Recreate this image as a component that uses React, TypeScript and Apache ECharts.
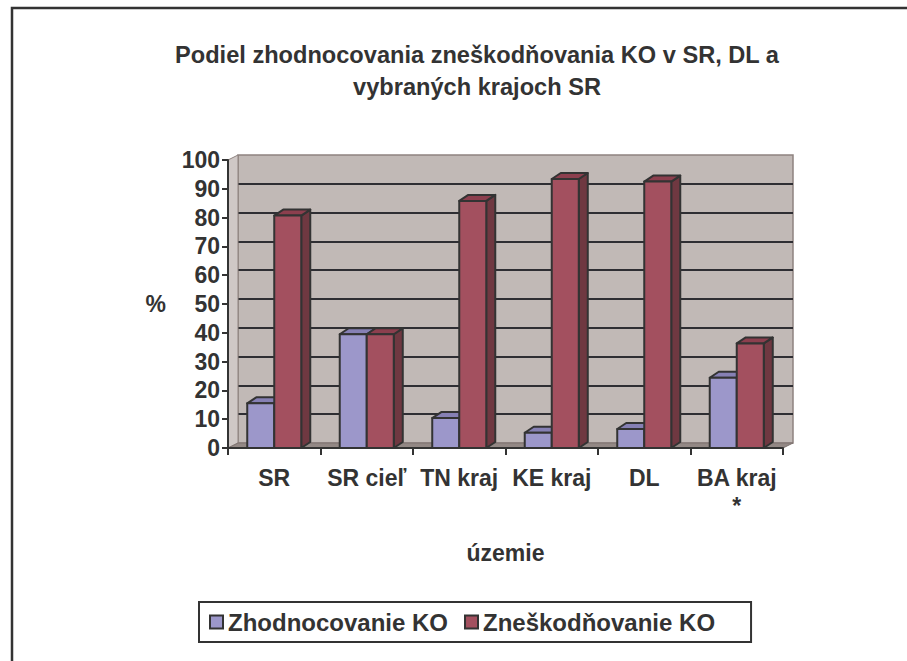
import React, { useEffect, useRef } from 'react';
import * as echarts from 'echarts';

const categories = ['SR', 'SR cieľ', 'TN kraj', 'KE kraj', 'DL', 'BA kraj *'];
const zhodnocovanie = [15.5, 39.5, 10.4, 5.3, 6.6, 24.4];
const zneskodnovanie = [80.7, 39.5, 85.8, 93.4, 92.5, 36.3];
const seriesNames = ['Zhodnocovanie KO', 'Zneškodňovanie KO'];
const yMin = 0;
const yMax = 100;
const yInterval = 10;
const titleText = 'Podiel zhodnocovania zneškodňovania KO v SR, DL a\nvybraných krajoch SR';
const yName = '%';
const xName = 'územie';

const FONT = '"Liberation Sans", Arial, sans-serif';
const TEXT = '#333333';
const STROKE = '#333333';

const blue = { front: '#9C97CA', top: '#8680B4', side: '#6E6898' };
const red = { front: '#A3505F', top: '#8C3F4E', side: '#6F3841' };

function barRender(side: number, colors: any) {
  return (params: any, api: any) => {
    const idx = api.value(0);
    const val = api.value(1);
    const top = api.coord([idx, val]);
    const base = api.coord([idx, 0]);
    const band = api.size([1, 0])[0];
    const w = band * 0.292;
    const x0 = side === 0 ? top[0] - w : top[0];
    const x1 = x0 + w;
    const yT = top[1];
    const yB = base[1];
    const dx = 9;
    const dy = 6;
    const st = { stroke: STROKE, lineWidth: 2, lineJoin: 'round' };
    return {
      type: 'group',
      children: [
        { type: 'polygon', shape: { points: [[x1, yT], [x1 + dx, yT - dy], [x1 + dx, yB - dy], [x1, yB]] }, style: { ...st, fill: colors.side } },
        { type: 'polygon', shape: { points: [[x0, yT], [x1, yT], [x1 + dx, yT - dy], [x0 + dx, yT - dy]] }, style: { ...st, fill: colors.top } },
        { type: 'polygon', shape: { points: [[x0, yT], [x1, yT], [x1, yB], [x0, yB]] }, style: { ...st, fill: colors.front } },
      ],
    };
  };
}

function wallRender(params: any, api: any) {
  const cs = params.coordSys;
  const x = cs.x;
  const y = cs.y;
  const w = cs.width;
  const h = cs.height;
  const dx = 10;
  const dy = 5;
  return {
    type: 'group',
    children: [
      {
        type: 'polygon',
        shape: { points: [[x, y + h], [x + dx, y + h - dy], [x + dx, y - dy], [x, y]] },
        style: { fill: '#CFC8C6', stroke: '#8E8380', lineWidth: 1 },
      },
      {
        type: 'polygon',
        shape: { points: [[x, y + h], [x + w, y + h], [x + w + dx, y + h - dy], [x + dx, y + h - dy]] },
        style: { fill: '#938885', stroke: '#7E7370', lineWidth: 1 },
      },
    ],
  };
}

export default function App() {
  const ref = useRef<HTMLDivElement>(null);
  useEffect(() => {
    if (!ref.current) return;
    const chart = echarts.init(ref.current, undefined, { renderer: 'svg' });
    const labelStyle = { fontFamily: FONT, fontWeight: 'bold', fontSize: 23, color: TEXT };
    chart.setOption({
      animation: false,
      backgroundColor: '#ffffff',
      title: {
        text: titleText,
        left: 472,
        top: 34,
        textAlign: 'center',
        textStyle: { fontFamily: FONT, fontWeight: 'bold', fontSize: 23.6, color: TEXT, lineHeight: 32 },
      },
      graphic: [
        {
          type: 'polyline',
          shape: { points: [[12, 661], [12, 8], [907, 8]] },
          style: { stroke: STROKE, lineWidth: 2.5, fill: 'none' },
        },
      ],
      legend: {
        left: 199,
        top: 602,
        data: seriesNames,
        icon: 'rect',
        itemWidth: 13,
        itemHeight: 13,
        itemGap: 16,
        padding: [8, 36, 8, 10],
        borderColor: STROKE,
        borderWidth: 2,
        backgroundColor: '#ffffff',
        itemStyle: { borderColor: STROKE, borderWidth: 2 },
        textStyle: { ...labelStyle, fontSize: 24 },
        selectedMode: false,
      },
      grid: [
        { left: 228, top: 160, width: 555, height: 288 },
        { left: 238, top: 155, width: 555, height: 288, show: true, backgroundColor: '#C1B9B6', borderColor: '#8E8380', borderWidth: 1.5 },
      ],
      xAxis: [
        {
          type: 'category',
          gridIndex: 0,
          data: categories,
          axisLine: { lineStyle: { color: STROKE, width: 2 } },
          axisTick: { show: true, length: 7, lineStyle: { color: STROKE, width: 2 } },
          axisLabel: { ...labelStyle, margin: 16, lineHeight: 28, interval: 0, formatter: (v: string) => v.replace(' *', '\n*') },
          name: xName,
          nameLocation: 'middle',
          nameGap: 93,
          nameTextStyle: labelStyle,
          splitLine: { show: false },
          z: 5,
        },
        {
          type: 'category',
          gridIndex: 1,
          data: categories,
          show: false,
        },
      ],
      yAxis: [
        {
          type: 'value',
          gridIndex: 0,
          min: yMin,
          max: yMax,
          interval: yInterval,
          axisLine: { show: true, lineStyle: { color: STROKE, width: 2 } },
          axisTick: { show: true, length: 6, lineStyle: { color: STROKE, width: 2 } },
          axisLabel: { ...labelStyle, margin: 8 },
          splitLine: { show: false },
          name: yName,
          nameLocation: 'middle',
          nameRotate: 0,
          nameGap: 62,
          nameTextStyle: labelStyle,
          z: 5,
        },
        {
          type: 'value',
          gridIndex: 1,
          min: yMin,
          max: yMax,
          interval: yInterval,
          axisLine: { show: false },
          axisTick: { show: false },
          axisLabel: { show: false },
          splitLine: { show: true, showMinLine: false, showMaxLine: false, lineStyle: { color: '#2E2E33', width: 2 } },
        },
      ],
      series: [
        {
          type: 'custom',
          name: 'walls',
          xAxisIndex: 0,
          yAxisIndex: 0,
          data: [[0, 0]],
          renderItem: wallRender,
          silent: true,
          z: 1,
        },
        {
          type: 'custom',
          name: seriesNames[0],
          xAxisIndex: 0,
          yAxisIndex: 0,
          data: zhodnocovanie.map((v, i) => [i, v]),
          encode: { x: 0, y: 1 },
          itemStyle: { color: blue.front },
          renderItem: barRender(0, blue),
          z: 2,
        },
        {
          type: 'custom',
          name: seriesNames[1],
          xAxisIndex: 0,
          yAxisIndex: 0,
          data: zneskodnovanie.map((v, i) => [i, v]),
          encode: { x: 0, y: 1 },
          itemStyle: { color: red.front },
          renderItem: barRender(1, red),
          z: 3,
        },
      ],
    });
    return () => chart.dispose();
  }, []);
  return <div ref={ref} style={{ position: 'absolute', left: 0, top: 0, width: 907, height: 661 }} />;
}
